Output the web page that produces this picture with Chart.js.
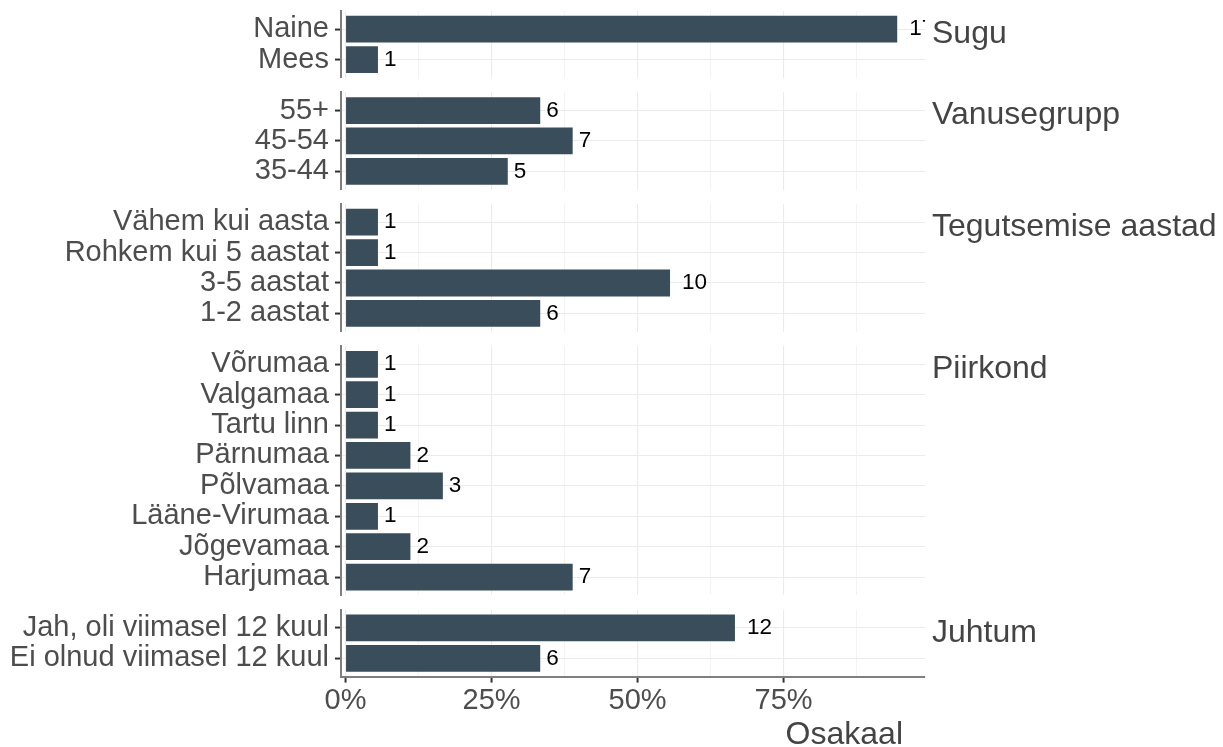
<!DOCTYPE html>
<html>
<head>
<meta charset="utf-8">
<title>Osakaal</title>
<script src="https://cdn.jsdelivr.net/npm/chart.js@4.4.0/dist/chart.umd.min.js"></script>
<style>
  html, body { margin: 0; padding: 0; background: #fff; }
  #wrap { position: relative; width: 1223px; height: 747px; overflow: hidden; }
  #wrap canvas { position: absolute; left: 0; }
</style>
</head>
<body>
<div id="wrap"></div>
<script>
// Panels, top to bottom; categories listed top to bottom inside each panel
const facetNames = ['Sugu', 'Vanusegrupp', 'Tegutsemise aastad', 'Piirkond', 'Juhtum'];

const suguLabels = ['Naine', 'Mees'];
const suguCounts = [17, 1];

const vanusLabels = ['55+', '45-54', '35-44'];
const vanusCounts = [6, 7, 5];

const aastadLabels = ['Vähem kui aasta', 'Rohkem kui 5 aastat', '3-5 aastat', '1-2 aastat'];
const aastadCounts = [1, 1, 10, 6];

const piirkondLabels = ['Võrumaa', 'Valgamaa', 'Tartu linn', 'Pärnumaa', 'Põlvamaa', 'Lääne-Virumaa', 'Jõgevamaa', 'Harjumaa'];
const piirkondCounts = [1, 1, 1, 2, 3, 1, 2, 7];

const juhtumLabels = ['Jah, oli viimasel 12 kuul', 'Ei olnud viimasel 12 kuul'];
const juhtumCounts = [12, 6];

const xTickValues = [0, 25, 50, 75];
const xTitle = 'Osakaal';

// layout
const W = 1223, H = 747;
const UNIT = 30.4, GAP = 14.4, FIRST_TOP = 11;
const PANEL_LEFT = 341, PANEL_RIGHT = 925;
const X_MIN = -0.77, X_MAX = 99.2;
const FONT = '"Liberation Sans", Arial, sans-serif';
const BAR_COLOR = '#3A4D5B';
const GRID_COLOR = '#EBEBEB';

Chart.defaults.font.family = FONT;
Chart.defaults.animation = false;

const facets = [
    { name: facetNames[0], labels: suguLabels, counts: suguCounts },
    { name: facetNames[1], labels: vanusLabels, counts: vanusCounts },
    { name: facetNames[2], labels: aastadLabels, counts: aastadCounts },
    { name: facetNames[3], labels: piirkondLabels, counts: piirkondCounts },
    { name: facetNames[4], labels: juhtumLabels, counts: juhtumCounts }
];

// major ticks plus the minor (half-way) grid lines
const xGridValues = [];
xTickValues.forEach(v => { xGridValues.push(v, v + 12.5); });

function makePanel(facet, panelTop, isLast) {
    const n = facet.labels.length;
    const total = facet.counts.reduce((a, b) => a + b, 0);
    const points = facet.counts.map((c, i) => ({ x: c / total * 100, y: i }));
    const panelH = (n + 0.2) * UNIT;

    const canvasTop = Math.round(panelTop) - 12;
    const padTop = panelTop - canvasTop;
    const canvasH = isLast ? H - canvasTop : Math.ceil(padTop + panelH + 12);
    const bottomSpace = canvasH - padTop - panelH;

    const canvas = document.createElement('canvas');
    canvas.width = W;
    canvas.height = canvasH;
    canvas.style.top = canvasTop + 'px';
    canvas.style.width = W + 'px';
    canvas.style.height = canvasH + 'px';
    document.getElementById('wrap').appendChild(canvas);

    const decor = {
        id: 'decor',
        afterDatasetsDraw(chart) {
            // count labels next to the bars, clipped to the panel like ggplot does
            const { ctx, chartArea } = chart;
            const meta = chart.getDatasetMeta(0);
            ctx.save();
            ctx.beginPath();
            ctx.rect(chartArea.left, chartArea.top, chartArea.right - chartArea.left, chartArea.bottom - chartArea.top);
            ctx.clip();
            ctx.font = '22.5px ' + FONT;
            ctx.fillStyle = '#000';
            ctx.textAlign = 'left';
            ctx.textBaseline = 'middle';
            meta.data.forEach((bar, i) => {
                const txt = String(facet.counts[i]);
                const w = ctx.measureText(txt).width;
                ctx.fillText(txt, bar.x + w * 0.48, bar.y);
            });
            ctx.restore();
        },
        afterDraw(chart) {
            const { ctx, chartArea } = chart;
            ctx.save();
            ctx.font = '32px ' + FONT;
            ctx.fillStyle = '#444';
            ctx.textAlign = 'left';
            ctx.textBaseline = 'alphabetic';
            ctx.fillText(facet.name, PANEL_RIGHT + 7, chartArea.top + 32);
            if (isLast) {
                ctx.textAlign = 'right';
                ctx.fillText(xTitle, 903, H - canvasTop - 3);
            }
            ctx.restore();
        }
    };

    new Chart(canvas, {
        type: 'bar',
        data: {
            datasets: [{
                data: points,
                backgroundColor: BAR_COLOR,
                borderWidth: 0,
                categoryPercentage: 1,
                barPercentage: 0.88
            }]
        },
        options: {
            indexAxis: 'y',
            responsive: false,
            devicePixelRatio: 1,
            layout: {
                padding: { left: 0, right: W - PANEL_RIGHT, top: padTop, bottom: isLast ? 0 : bottomSpace }
            },
            plugins: {
                legend: { display: false },
                tooltip: { enabled: false }
            },
            scales: {
                x: {
                    type: 'linear',
                    min: X_MIN,
                    max: X_MAX,
                    afterBuildTicks: s => { s.ticks = xGridValues.map(v => ({ value: v })); },
                    afterFit: s => {
                        s.height = isLast ? bottomSpace : 0;
                        s.paddingLeft = 0;
                        s.paddingRight = 0;
                    },
                    ticks: {
                        display: isLast,
                        autoSkip: false,
                        maxRotation: 0,
                        padding: 1,
                        color: '#4D4D4D',
                        font: { size: 29 },
                        callback: v => xTickValues.includes(v) ? v + '%' : ''
                    },
                    grid: {
                        color: GRID_COLOR,
                        lineWidth: c => (c.tick && xTickValues.includes(c.tick.value)) ? 1.1 : 0.6,
                        drawTicks: isLast,
                        tickLength: 6,
                        tickWidth: 2,
                        tickColor: c => (c.tick && xTickValues.includes(c.tick.value)) ? '#333' : 'rgba(0,0,0,0)'
                    },
                    border: { display: isLast, color: '#7F7F7F', width: 2 }
                },
                y: {
                    type: 'linear',
                    reverse: true,
                    offset: false,
                    min: -0.6,
                    max: n - 0.4,
                    afterBuildTicks: s => { s.ticks = facet.labels.map((_, i) => ({ value: i })); },
                    afterFit: s => {
                        s.width = PANEL_LEFT;
                        s.paddingTop = 0;
                        s.paddingBottom = 0;
                    },
                    ticks: {
                        autoSkip: false,
                        padding: 6,
                        color: '#4D4D4D',
                        font: { size: 29 },
                        callback: v => facet.labels[v]
                    },
                    grid: {
                        offset: false,
                        color: GRID_COLOR,
                        lineWidth: 1.1,
                        tickLength: 6,
                        tickWidth: 2,
                        tickColor: '#333'
                    },
                    border: { color: '#7F7F7F', width: 2 }
                }
            }
        },
        plugins: [decor]
    });

    return panelTop + panelH + GAP;
}

let nextTop = FIRST_TOP;
facets.forEach((f, i) => {
    nextTop = makePanel(f, nextTop, i === facets.length - 1);
});
</script>
</body>
</html>
